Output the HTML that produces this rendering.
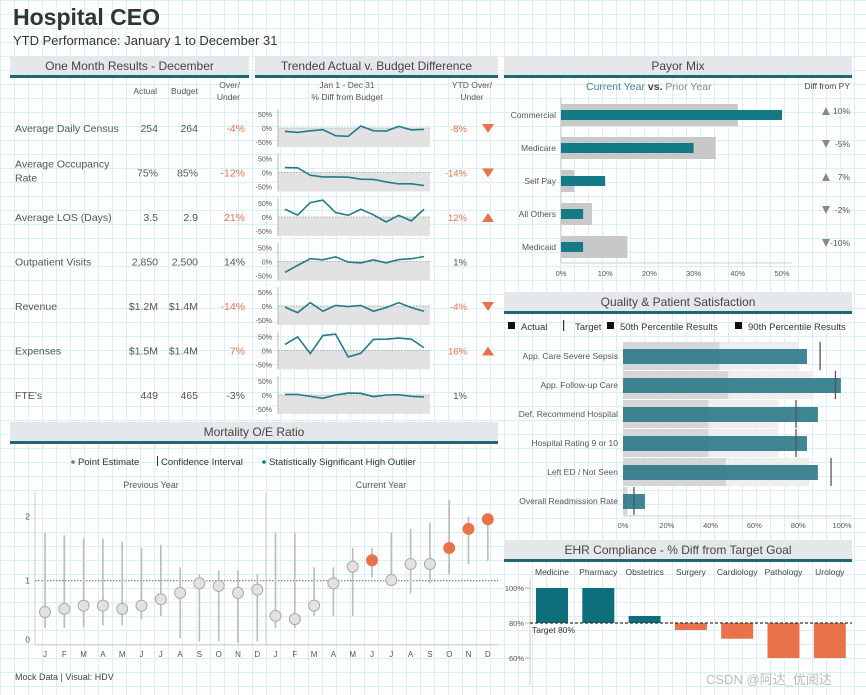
<!DOCTYPE html>
<html><head><meta charset="utf-8"><style>
html,body{margin:0;padding:0}
body{width:866px;height:695px;overflow:hidden;background-color:#fff;
background-image:linear-gradient(#d8f1f4 1px,transparent 1px),linear-gradient(90deg,#d8f1f4 1px,transparent 1px);background-size:14px 14px;
font-family:"Liberation Sans",sans-serif}
svg{position:absolute;left:0;top:0}
text{font-family:"Liberation Sans",sans-serif}
</style></head><body>
<svg id="s" width="866" height="695"></svg>
<script>
// ---------- data ----------
const kpiNames=["Average Daily Census","Average Occupancy|Rate","Average LOS (Days)","Outpatient Visits","Revenue","Expenses","FTE's"];
const kpiActual=["254","75%","3.5","2,850","$1.2M","$1.5M","449"];
const kpiBudget=["264","85%","2.9","2,500","$1.4M","$1.4M","465"];
const kpiOver=["-4%","-12%","21%","14%","-14%","7%","-3%"];
const kpiOverBad=[1,1,1,0,1,1,0];
const ytdVals=["-8%","-14%","12%","1%","-4%","16%","1%"];
const ytdDir=["down","down","up","","down","up",""];
const sparkADC=[-12,-16,-10,-6,-28,-30,7,-10,-11,6,-7,-5];
const sparkOcc=[18,17,-10,-16,-16,-17,-24,-25,-34,-41,-41,-47];
const sparkLOS=[28,7,52,61,16,6,28,8,-18,6,-14,28];
const sparkOP=[-39,-14,10,6,17,-2,-5,6,-5,7,10,18];
const sparkRev=[-4,-24,12,-19,2,-2,2,-19,-6,12,-6,-19];
const sparkExp=[22,49,-11,54,59,-23,-10,40,41,45,41,10];
const sparkFTE=[2,2,-5,-12,0,7,6,-6,0,1,-5,-7];
const payorCats=["Commercial","Medicare","Self Pay","All Others","Medicaid"];
const payorPrior=[40,35,3,7,15];
const payorCurrent=[50,30,10,5,5];
const payorDiff=["10%","-5%","7%","-2%","-10%"];
const payorTicks=[0,10,20,30,40,50];
const qualCats=["App. Care Severe Sepsis","App. Follow-up Care","Def. Recommend Hospital","Hospital Rating 9 or 10","Left ED / Not Seen","Overall Readmission Rate"];
const qual50=[44,48,39,39,47,2];
const qual90=[80,87,71,71,85,2];
const qualActual=[84,99.5,89,84,89,10];
const qualTarget=[90,97,79,79,95,5];
const qualTicks=[0,20,40,60,80,100];
const ehrCats=["Medicine","Pharmacy","Obstetrics","Surgery","Cardiology","Pathology","Urology"];
const ehrVals=[100,100,84,76,71,60,60];
const ehrTicks=[100,80,60];
const months=["J","F","M","A","M","J","J","A","S","O","N","D"];
const mortPrev=[0.51,0.56,0.61,0.61,0.56,0.61,0.71,0.81,0.96,0.92,0.81,0.86];
const mortPrevLo=[0.26,0.26,0.27,0.30,0.30,0.40,0.45,0.10,0.05,0.05,0.03,0.05];
const mortPrevHi=[1.75,1.71,1.66,1.66,1.61,1.51,1.56,1.21,1.10,1.16,1.16,1.10];
const mortCur=[0.45,0.40,0.61,0.96,1.22,1.32,1.01,1.26,1.26,1.51,1.81,1.96];
const mortCurLo=[0.26,0.26,0.45,0.45,0.45,1.05,0.92,0.80,0.96,1.10,1.26,1.31];
const mortCurHi=[1.75,1.75,1.21,1.21,1.51,1.51,1.75,1.81,1.91,2.26,2.0,1.95];
const mortCurOutlier=[0,0,0,0,0,1,0,0,0,1,1,1];
const mortTicks=[0,1,2];

const S=document.getElementById('s');
const NS="http://www.w3.org/2000/svg";
function mk(t,a,p){const e=document.createElementNS(NS,t);for(const k in a)e.setAttribute(k,a[k]);(p||S).appendChild(e);return e;}
function tx(x,y,s,o,p){const e=mk('text',Object.assign({x:x,y:y,'font-size':10,fill:'#555'},o||{}),p);e.textContent=s;return e;}
const TEAL='#137482',OR='#e8734a';

// titles
let e=tx(13,25,"Hospital CEO",{'font-size':23,'font-weight':'bold',fill:'#333'});

e=tx(13,45,"YTD Performance: January 1 to December 31",{'font-size':13,fill:'#333'});


function header(x,y,w,label,name){
  const g=mk('g',{});
  
  mk('rect',{x:x,y:y,width:w,height:20,fill:'#e4e8ea'},g);
  mk('rect',{x:x,y:y+19,width:w,height:3,fill:'#1d6873'},g);
  tx(x+w/2,y+14,label,{'font-size':12,fill:'#444','text-anchor':'middle'},g);
}
header(10,56,239,"One Month Results - December","one-month-header");
header(255,56,243,"Trended Actual v. Budget Difference","trended-header");
header(504,56,348,"Payor Mix","payor-mix-header");
header(504,292,348,"Quality & Patient Satisfaction","quality-header");
header(504,540,348,"EHR Compliance - % Diff from Target Goal","ehr-header");
header(10,422,488,"Mortality O/E Ratio","mortality-header");

// ---------- KPI table ----------
tx(157,94,"Actual",{'font-size':8.5,'text-anchor':'end'});
tx(198,94,"Budget",{'font-size':8.5,'text-anchor':'end'});
tx(240,88,"Over/",{'font-size':8.5,'text-anchor':'end'});
tx(240,100,"Under",{'font-size':8.5,'text-anchor':'end'});
tx(347,88,"Jan 1 - Dec 31",{'font-size':8.5,'text-anchor':'middle'});
tx(347,100,"% Diff from Budget",{'font-size':8.5,'text-anchor':'middle'});
tx(472,88,"YTD Over/",{'font-size':8.5,'text-anchor':'middle'});
tx(472,100,"Under",{'font-size':8.5,'text-anchor':'middle'});
const sparks=[sparkADC,sparkOcc,sparkLOS,sparkOP,sparkRev,sparkExp,sparkFTE];
for(let i=0;i<7;i++){
  const cy=128+i*44.5;
  const g=mk('g',{});
  
  const nm=kpiNames[i].split('|');
  tx(15,cy+(nm.length>1?-5:4),nm[0],{'font-size':10.5},g);
  if(nm.length>1)tx(15,cy+9,nm[1],{'font-size':10.5},g);
  tx(158,cy+4,kpiActual[i],{'font-size':10.5,'text-anchor':'end'},g);
  tx(198,cy+4,kpiBudget[i],{'font-size':10.5,'text-anchor':'end'},g);
  tx(245,cy+4,kpiOver[i],{'font-size':10.5,'text-anchor':'end',fill:kpiOverBad[i]?OR:'#555'},g);
  // sparkline
  const x0=278,x1=430;
  const ys=v=>cy-v*0.277;
  mk('rect',{x:x0,y:cy,width:x1-x0,height:19,fill:'#e2e2e2'},g);
  mk('line',{x1:x0,y1:cy-19,x2:x0,y2:cy+19,stroke:'#bbb','stroke-width':1},g);
  mk('line',{x1:x0,y1:cy,x2:x1,y2:cy,stroke:'#999','stroke-width':0.7,'stroke-dasharray':'1.5,1.5'},g);
  [50,0,-50].forEach(t=>{tx(272,ys(t)+3,(t<0?'-':'')+Math.abs(t)+'%',{'font-size':7,'text-anchor':'end'},g);});
  const d=sparks[i];
  const xs=j=>285+j*(424-285)/11;
  const pl=mk('polyline',{points:d.map((v,j)=>xs(j)+','+ys(v)).join(' '),fill:'none',stroke:'#237a88','stroke-width':1.6},g);
  
  const bad=ytdDir[i]!=='';
  tx(467,cy+4,ytdVals[i],{'font-size':9.5,'text-anchor':'end',fill:bad?OR:'#555'},g);
  if(ytdDir[i]==='down')mk('polygon',{points:`482,${cy-4} 494,${cy-4} 488,${cy+5}`,fill:OR},g);
  if(ytdDir[i]==='up')mk('polygon',{points:`482,${cy+5} 494,${cy+5} 488,${cy-4}`,fill:OR},g);
}

// ---------- Payor mix ----------
e=mk('text',{x:586,y:90,'font-size':10.5,fill:'#888'});
e.innerHTML='<tspan fill="#3a8a99">Current Year</tspan><tspan fill="#444" font-weight="bold"> vs. </tspan><tspan>Prior Year</tspan>';
tx(850,89,"Diff from PY",{'font-size':8.5,'text-anchor':'end',fill:'#444'});
const px=v=>561+v*4.42;
mk('line',{x1:561,y1:98,x2:561,y2:263,stroke:'#ccc'});
mk('line',{x1:561,y1:263,x2:792,y2:263,stroke:'#ccc'});
payorTicks.forEach(t=>tx(px(t),276,t+'%',{'font-size':7.5,'text-anchor':'middle'}));
payorCats.forEach((c,i)=>{
  const cy=115+i*33;
  tx(556,cy+3,c,{'font-size':8.5,'text-anchor':'end'});
  let r=mk('rect',{x:561,y:cy-11,width:px(payorPrior[i])-561,height:22,fill:'#c8c8c8'});
  
  r=mk('rect',{x:561,y:cy-5,width:px(payorCurrent[i])-561,height:10,fill:'#137a86'});
  
  const up=payorCurrent[i]>payorPrior[i];
  mk('polygon',{points:up?`822,${cy} 830,${cy} 826,${cy-8}`:`822,${cy-8} 830,${cy-8} 826,${cy}`,fill:'#888'});
  tx(850,cy-1,payorDiff[i],{'font-size':8.5,'text-anchor':'end'});
});

// ---------- Quality ----------
const lg=[[508,"Actual",'sq'],[562,"Target",'bar'],[607,"50th Percentile Results",'sq'],[735,"90th Percentile Results",'sq']];
lg.forEach(l=>{
  if(l[2]==='sq')mk('rect',{x:l[0],y:322,width:7,height:7,fill:'#111'});else mk('rect',{x:l[0]+1,y:320,width:1.2,height:11,fill:'#333'});
  tx(l[0]+13,330,l[1],{'font-size':9.5,fill:'#333'});
});
const qx=v=>623+v*2.19;
qualCats.forEach((c,i)=>{
  const cy=356+i*29;
  tx(618,cy+3,c,{'font-size':8.5,'text-anchor':'end'});
  mk('rect',{x:623,y:cy-14,width:qx(qual90[i])-623,height:28,fill:'#eeeeee'});
  mk('rect',{x:623,y:cy-14,width:qx(qual50[i])-623,height:28,fill:'#d6d6d6'});
  let r=mk('rect',{x:623,y:cy-7,width:qx(qualActual[i])-623,height:15,fill:'#2f7b8a','fill-opacity':0.92});
  
  r=mk('line',{x1:qx(qualTarget[i]),y1:cy-14,x2:qx(qualTarget[i]),y2:cy+14,stroke:'#555','stroke-width':1.3});
  
});
mk('line',{x1:623,y1:516,x2:852,y2:516,stroke:'#ccc'});
qualTicks.forEach(t=>tx(qx(t),528,t+'%',{'font-size':7.5,'text-anchor':'middle'}));

// ---------- EHR ----------
const ey=v=>623-(v-80)*1.75;
mk('line',{x1:530,y1:578,x2:530,y2:685,stroke:'#ccc'});
ehrTicks.forEach(t=>{tx(524,ey(t)+3,t+'%',{'font-size':7.5,'text-anchor':'end'});mk('line',{x1:525,y1:ey(t),x2:530,y2:ey(t),stroke:'#bbb'});});
ehrCats.forEach((c,i)=>{
  const cx=552+i*46.3,v=ehrVals[i];
  tx(cx,575,c,{'font-size':8.5,'text-anchor':'middle',fill:'#444'});
  const r=mk('rect',{x:cx-16,y:Math.min(ey(v),ey(80)),width:32,height:Math.abs(ey(v)-ey(80)),fill:v>=80?'#0d6e7c':OR});
  
});
mk('line',{x1:530,y1:623,x2:852,y2:623,stroke:'#333','stroke-width':1.2,'stroke-dasharray':'3,2'});
tx(532,633,"Target 80%",{'font-size':8.5,fill:'#333'});
tx(706,684,"CSDN @阿达_优阅达",{'font-size':13,fill:'#bbb','font-family':'"Liberation Sans","Noto Sans CJK SC",sans-serif'});

// ---------- Mortality ----------
mk('circle',{cx:73,cy:462,r:1.8,fill:'#777'});
tx(78,465,"Point Estimate",{'font-size':9.5,fill:'#333'});
mk('rect',{x:157,y:456,width:1,height:10,fill:'#333'});
tx(161,465,"Confidence Interval",{'font-size':9.5,fill:'#333'});
mk('circle',{cx:264,cy:462,r:1.8,fill:TEAL});
tx(269,465,"Statistically Significant High Outlier",{'font-size':9.5,fill:'#333'});
tx(151,488,"Previous Year",{'font-size':9,'text-anchor':'middle'});
tx(381,488,"Current Year",{'font-size':9,'text-anchor':'middle'});
const my=v=>644.7-64*v;
mk('line',{x1:35,y1:492,x2:35,y2:645,stroke:'#ccc'});
mk('line',{x1:266,y1:492,x2:266,y2:645,stroke:'#ccc'});
mk('line',{x1:35,y1:645,x2:498,y2:645,stroke:'#ccc'});
mortTicks.forEach(t=>tx(30,my(t)+(t===0?-2:3),String(t),{'font-size':8.5,'text-anchor':'end'}));
mk('line',{x1:35,y1:my(1),x2:498,y2:my(1),stroke:'#666','stroke-width':1,'stroke-dasharray':'1.5,1.5'});
function mort(x0,pts,lo,hi,out){
  pts.forEach((v,j)=>{
    const cx=x0+j*19.3;
    const l=mk('line',{x1:cx,y1:my(lo[j]),x2:cx,y2:my(hi[j]),stroke:'#bbb','stroke-width':1.6});
    
    const o=out&&out[j];
    const c=mk('circle',{cx:cx,cy:my(v),r:5.5,fill:o?OR:'#e2e2e2',stroke:o?OR:'#aaa','stroke-width':1});
    
    tx(cx,657,months[j],{'font-size':8,'text-anchor':'middle'});
  });
}
mort(45,mortPrev,mortPrevLo,mortPrevHi,null);
mort(275.5,mortCur,mortCurLo,mortCurHi,mortCurOutlier);
tx(15,680,"Mock Data | Visual: HDV",{'font-size':9,fill:'#444'});
</script>
</body></html>
